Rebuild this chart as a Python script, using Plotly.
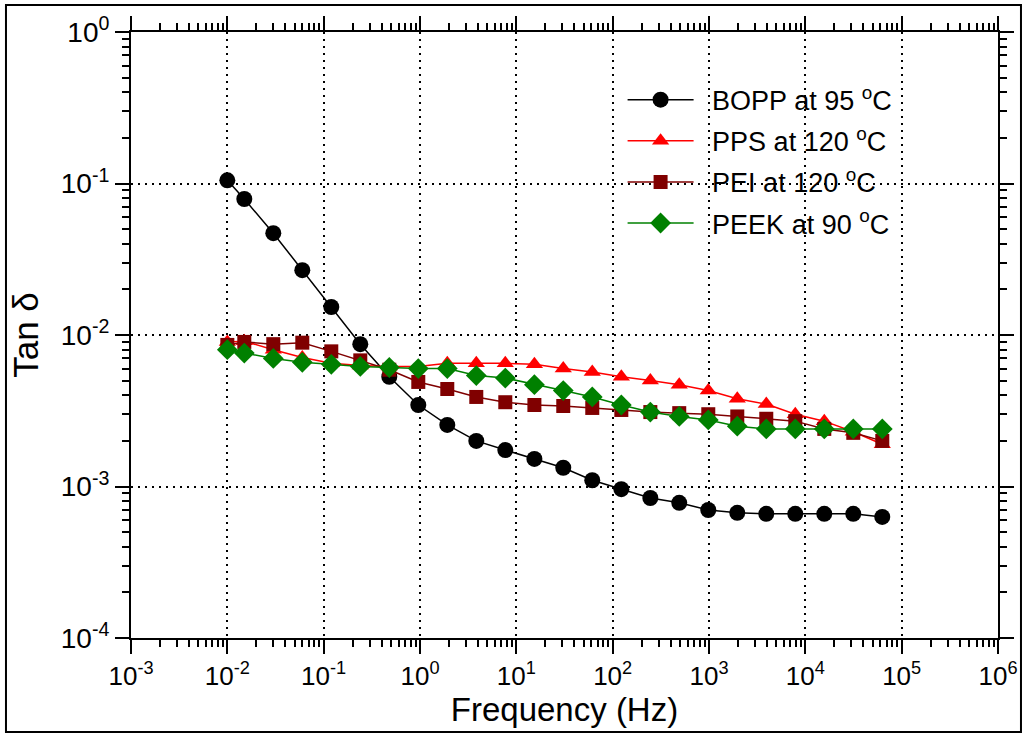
import plotly.graph_objects as go

freq = [0.01, 0.015, 0.03, 0.06, 0.12, 0.24, 0.48, 0.96, 1.92, 3.84, 7.68, 15.4,
        30.7, 61.4, 123, 246, 491, 983, 1966, 3932, 7864, 15729, 31457, 62915]

bopp = [0.105, 0.079, 0.047, 0.0268, 0.0153, 0.0087, 0.0053, 0.00345, 0.00255, 0.0020,
        0.00174, 0.00152, 0.00133, 0.0011, 0.00096, 0.00084, 0.00078, 0.0007, 0.00067,
        0.00066, 0.00066, 0.00066, 0.00066, 0.00063]
pps = [0.0090, 0.0091, 0.0080, 0.0071, 0.0065, 0.0063, 0.0062, 0.0062, 0.0065, 0.0065,
       0.0065, 0.0064, 0.0060, 0.0057, 0.0053, 0.0050, 0.0047, 0.0043, 0.0038, 0.0035,
       0.0030, 0.0027, 0.0023, 0.0019]
pei = [0.0086, 0.0090, 0.0087, 0.0089, 0.0078, 0.0068, 0.0059, 0.0049, 0.0044, 0.0039,
       0.0036, 0.00345, 0.0034, 0.0033, 0.0032, 0.0031, 0.00305, 0.0030, 0.0029, 0.0028,
       0.0027, 0.0024, 0.00226, 0.0020]
peek = [0.0080, 0.0076, 0.0070, 0.0066, 0.0064, 0.0062, 0.0061, 0.0060, 0.0060, 0.0054,
        0.0052, 0.0047, 0.0043, 0.0039, 0.00345, 0.0031, 0.0029, 0.00275, 0.0025, 0.0024,
        0.0024, 0.0024, 0.0024, 0.0024]

names = ["BOPP at 95 <sup>o</sup>C", "PPS at 120 <sup>o</sup>C",
         "PEI at 120 <sup>o</sup>C", "PEEK at 90 <sup>o</sup>C"]
series = [bopp, pps, pei, peek]
colors = ["#000000", "#FF0000", "#800000", "#008000"]
symbols = ["circle", "triangle-up", "square", "diamond"]
msizes = [16, 15, 14, 16]

x_tickvals = [1e-3, 1e-2, 1e-1, 1e0, 1e1, 1e2, 1e3, 1e4, 1e5, 1e6]
x_ticktext = ["10<sup>-3</sup>", "10<sup>-2</sup>", "10<sup>-1</sup>", "10<sup>0</sup>",
              "10<sup>1</sup>", "10<sup>2</sup>", "10<sup>3</sup>", "10<sup>4</sup>",
              "10<sup>5</sup>", "10<sup>6</sup>"]
y_tickvals = [1e-4, 1e-3, 1e-2, 1e-1, 1e0]
y_ticktext = ["10<sup>-4</sup>", "10<sup>-3</sup>", "10<sup>-2</sup>", "10<sup>-1</sup>",
              "10<sup>0</sup>"]

fig = go.Figure()
for i, (name, ys, c, s, ms) in enumerate(zip(names, series, colors, symbols, msizes)):
    fig.add_trace(go.Scatter(
        x=freq, y=ys, name="\u2002" + name, mode="lines+markers", legendgroup=f"g{i}",
        line=dict(color=c, width=1.5),
        marker=dict(symbol=s, size=ms, color=c, line=dict(width=0)),
    ))

x_minor = [k * 10 ** e for e in range(-3, 6) for k in range(2, 10)]
y_minor = [k * 10 ** e for e in range(-4, 0) for k in range(2, 10)]

font = "Liberation Sans, Arial, sans-serif"
axis_common = dict(
    type="log", showline=True, linewidth=2, linecolor="black", mirror="ticks",
    ticks="outside", ticklen=14, tickwidth=2, tickcolor="black",
    showgrid=True, gridcolor="black", gridwidth=1.5, griddash="2px,5px",
    zeroline=False, automargin=False,
)
fig.update_xaxes(
    **axis_common, range=[-3, 6], tickmode="array", tickvals=x_tickvals, ticktext=x_ticktext,
    tickfont=dict(family=font, size=26, color="black"),
    minor=dict(tickmode="array", tickvals=x_minor, ticks="outside", ticklen=7,
               tickwidth=2, tickcolor="black", showgrid=False),
    title=dict(text="Frequency (Hz)", font=dict(family=font, size=33, color="black"), standoff=6),
)
fig.update_yaxes(
    **axis_common, range=[-4, 0], tickmode="array", tickvals=y_tickvals, ticktext=y_ticktext,
    tickfont=dict(family=font, size=28, color="black"),
    minor=dict(tickmode="array", tickvals=y_minor, ticks="outside", ticklen=7,
               tickwidth=2, tickcolor="black", showgrid=False),
    title=dict(text="Tan δ", font=dict(family=font, size=35, color="black"), standoff=12),
)

fig.add_shape(type="rect", xref="paper", yref="paper",
              x0=-0.1442, x1=1.0265, y0=-0.1551, y1=1.0446,
              line=dict(color="black", width=2), fillcolor="rgba(0,0,0,0)", layer="above")

fig.update_layout(
    width=1024, height=738,
    margin=dict(l=131, r=26, t=32, b=100, autoexpand=False),
    paper_bgcolor="white", plot_bgcolor="white",
    showlegend=True,
    legend=dict(x=0.567, y=0.928, xanchor="left", yanchor="top",
                bgcolor="rgba(0,0,0,0)", borderwidth=0, itemwidth=66,
                font=dict(family=font, size=27, color="black"), tracegroupgap=3),
)

fig.write_html("out.html", config={"displayModeBar": False},
               post_script="document.body.style.margin='0px';")
